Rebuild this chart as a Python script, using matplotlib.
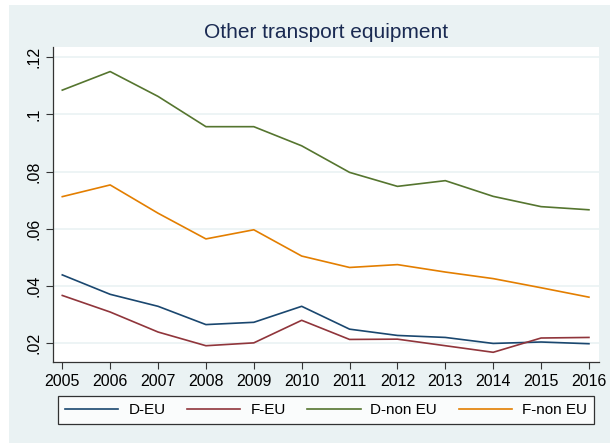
import matplotlib
matplotlib.use('Agg')
import matplotlib.pyplot as plt
from matplotlib.patches import Rectangle

plt.rcParams['font.family'] = ['Liberation Sans', 'DejaVu Sans']

years = list(range(2005, 2017))
d_eu = [0.0438, 0.0370, 0.0328, 0.0264, 0.0272, 0.0328, 0.0248, 0.0226, 0.0219, 0.0198, 0.0203, 0.0197]
f_eu = [0.0366, 0.0308, 0.0238, 0.0190, 0.0200, 0.0279, 0.0212, 0.0213, 0.0190, 0.0167, 0.0217, 0.0219]
d_non_eu = [0.1085, 0.1150, 0.1063, 0.0957, 0.0957, 0.0890, 0.0797, 0.0748, 0.0768, 0.0713, 0.0677, 0.0666]
f_non_eu = [0.0712, 0.0753, 0.0654, 0.0564, 0.0596, 0.0504, 0.0464, 0.0474, 0.0448, 0.0425, 0.0393, 0.0360]

series_names = ['D-EU', 'F-EU', 'D-non EU', 'F-non EU']
y_ticks = [0.02, 0.04, 0.06, 0.08, 0.10, 0.12]
y_tick_labels = ['.02', '.04', '.06', '.08', '.1', '.12']

colors = ['#1a476f', '#90353b', '#55752f', '#e37e00']
bg = '#eaf2f3'

fig = plt.figure(figsize=(6.10, 4.43), dpi=100)
fig.patch.set_facecolor('white')
# stata style panel behind everything
fig.add_artist(Rectangle((9 / 610, 0), 1, 1 - 5 / 443, transform=fig.transFigure,
                         facecolor=bg, edgecolor='none', zorder=-10))

ax = fig.add_axes([53 / 610, 1 - 362 / 443, (599 - 53) / 610, (362 - 47) / 443])
ax.set_facecolor('white')

for vals, c, name in zip([d_eu, f_eu, d_non_eu, f_non_eu], colors, series_names):
    ax.plot(years, vals, color=c, linewidth=1.2, label=name)

ax.set_xlim(2004.806, 2016.21)
ax.set_ylim(0.0133, 0.1236)
ax.set_xticks(years)
ax.set_yticks(y_ticks)
ax.set_yticklabels(y_tick_labels, rotation=90, va='center')
ax.tick_params(axis='both', labelsize=11.5, color='#333333', length=5, width=0.8)
ax.grid(axis='y', color=bg, linewidth=1.2)
ax.set_axisbelow(True)

for side in ['top', 'right']:
    ax.spines[side].set_visible(False)
for side in ['left', 'bottom']:
    ax.spines[side].set_color('#333333')
    ax.spines[side].set_linewidth(0.9)

fig.text(326 / 610, 1 - 33 / 443, 'Other transport equipment', ha='center', va='center',
         fontsize=15, color='#1a2a52')

leg = fig.legend(loc='center', bbox_to_anchor=(326 / 610, 1 - 410 / 443),
                 ncol=4, fontsize=11, frameon=True, fancybox=False,
                 edgecolor='black', handlelength=3.5, handletextpad=0.65,
                 columnspacing=1.4, borderpad=0.45)
leg.get_frame().set_linewidth(0.9)

fig.savefig('out.png', dpi=100, facecolor=fig.get_facecolor())
